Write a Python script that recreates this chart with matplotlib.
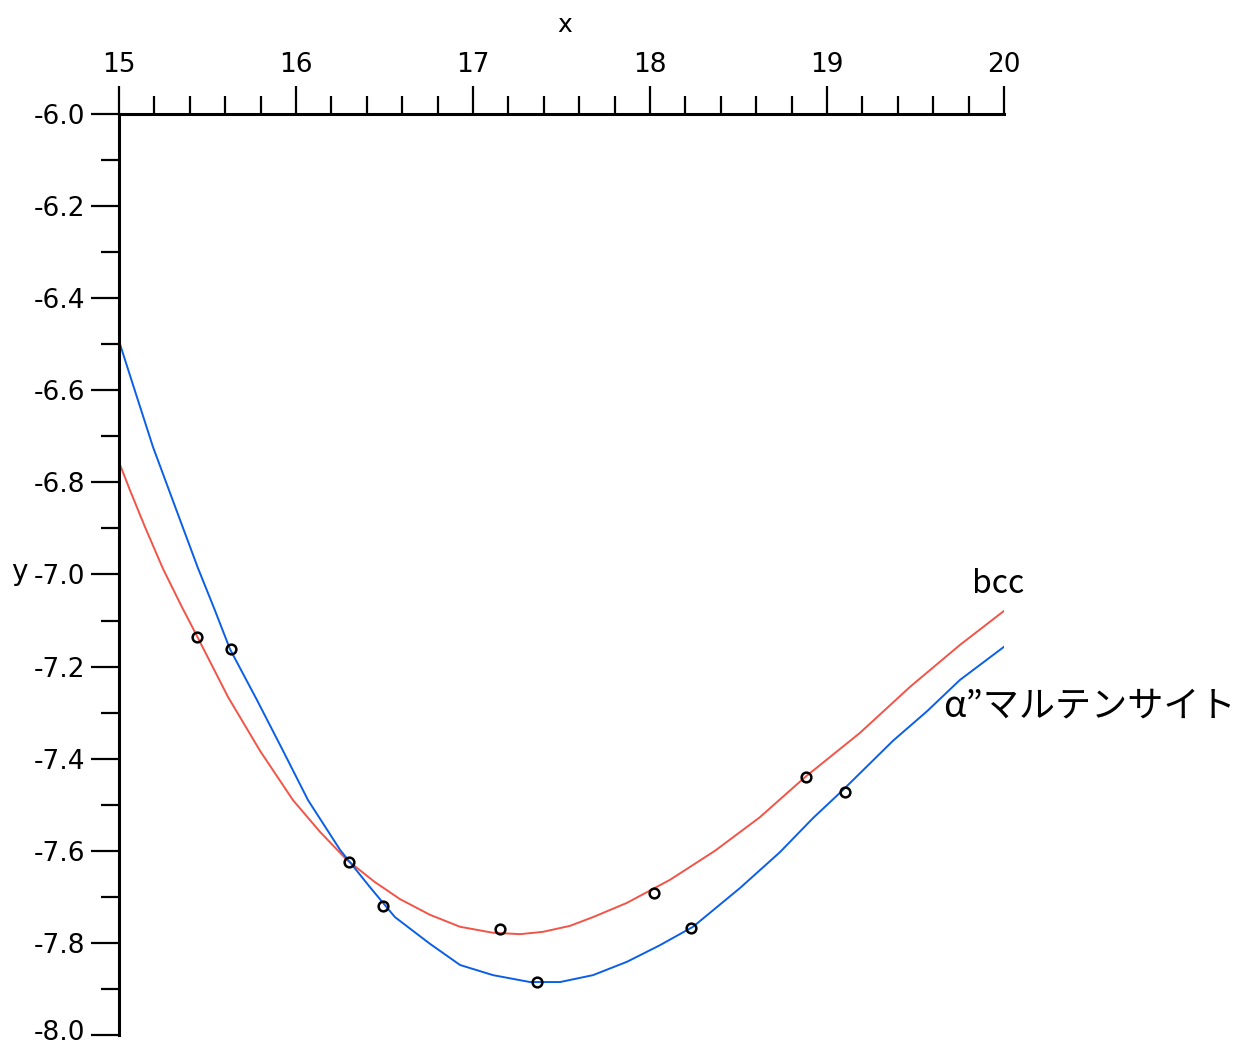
import numpy as np
import matplotlib
matplotlib.use("Agg")
import matplotlib.pyplot as plt
from matplotlib.ticker import MultipleLocator, FuncFormatter

plt.rcParams['axes.unicode_minus'] = False

# bcc curve (red)
bcc_x = [15.000, 15.062, 15.147, 15.249, 15.356, 15.441, 15.616, 15.797, 15.983, 16.136,
         16.288, 16.446, 16.588, 16.757, 16.927, 17.113, 17.266, 17.395, 17.548, 17.678,
         17.870, 18.113, 18.367, 18.621, 18.876, 19.186, 19.469, 19.751, 20.000]
bcc_y = [-6.756, -6.817, -6.897, -6.988, -7.071, -7.134, -7.266, -7.383, -7.490, -7.559,
         -7.620, -7.668, -7.705, -7.739, -7.765, -7.778, -7.781, -7.776, -7.763, -7.744,
         -7.713, -7.663, -7.600, -7.527, -7.440, -7.344, -7.244, -7.153, -7.079]

# alpha'' martensite curve (blue)
mart_x = [15.000, 15.079, 15.192, 15.328, 15.446, 15.537, 15.627, 15.780, 15.927, 16.068,
          16.249, 16.418, 16.559, 16.757, 16.927, 17.113, 17.322, 17.492, 17.678, 17.870,
          18.056, 18.243, 18.508, 18.734, 18.921, 19.090, 19.373, 19.565, 19.751, 20.000]
mart_y = [-6.493, -6.588, -6.723, -6.864, -6.986, -7.073, -7.162, -7.273, -7.383, -7.490,
          -7.598, -7.679, -7.744, -7.802, -7.848, -7.870, -7.885, -7.885, -7.870, -7.841,
          -7.805, -7.765, -7.681, -7.603, -7.529, -7.468, -7.361, -7.297, -7.229, -7.157]

# calculated points
bcc_px = [15.44, 16.30, 17.15, 18.02, 18.88]
bcc_py = [-7.136, -7.624, -7.770, -7.692, -7.440]
mart_px = [15.63, 16.49, 17.36, 18.23, 19.10]
mart_py = [-7.162, -7.720, -7.885, -7.768, -7.472]

y_bottom = -8.0

tick_font = ['DejaVu Sans']
jp_font = ['Noto Sans CJK JP', 'DejaVu Sans']

fig = plt.figure(figsize=(12.4, 10.48), dpi=100)
ax = fig.add_axes([119/1240, 1-1035/1048, 885/1240, 921/1048])

ax.plot(bcc_x, bcc_y, color='#F25448', lw=1.4)
ax.plot(mart_x, mart_y, color='#0A5FE6', lw=1.4)
ax.plot(bcc_px, bcc_py, 'o', ms=7, mfc='none', mec='black', mew=1.8)
ax.plot(mart_px, mart_py, 'o', ms=7, mfc='none', mec='black', mew=1.8)

ax.set_xlim(15, 20)
ax.set_ylim(y_bottom, -6.0)

for s in ['bottom', 'right']:
    ax.spines[s].set_visible(False)
for s in ['top', 'left']:
    ax.spines[s].set_linewidth(2.2)

ax.xaxis.tick_top()
ax.xaxis.set_major_locator(MultipleLocator(1))
ax.xaxis.set_minor_locator(MultipleLocator(0.2))
ax.yaxis.set_major_locator(MultipleLocator(0.2))
ax.yaxis.set_minor_locator(MultipleLocator(0.1))
# the bottom label is drawn separately, a little raised, so it stays on the page
ax.yaxis.set_major_formatter(FuncFormatter(
    lambda v, p: '' if abs(v - y_bottom) < 1e-6 else '%.1f' % v))

ax.tick_params(axis='x', which='major', direction='out', length=20, width=1.6, pad=6, labelsize=19)
ax.tick_params(axis='x', which='minor', direction='out', length=13, width=1.6)
ax.tick_params(axis='y', which='major', direction='out', length=20, width=1.6, pad=4, labelsize=19)
ax.tick_params(axis='y', which='minor', direction='out', length=13, width=1.6)
for lab in ax.get_xticklabels() + ax.get_yticklabels():
    lab.set_family(tick_font)

ax.annotate('%.1f' % y_bottom, xy=(0, y_bottom), xycoords=('axes fraction', 'data'),
            xytext=(-24, -8.2), textcoords='offset points', ha='right', va='bottom',
            fontsize=19, family=tick_font, annotation_clip=False)

fig.text(565/1240, 1-25/1048, 'x', ha='center', va='center', fontsize=18, family=tick_font)
fig.text(19/1240, 1-572/1048, 'y', ha='center', va='center', fontsize=20, family=tick_font)

ax.text(19.82, -7.040, 'bcc', ha='left', va='baseline', fontsize=23, family=jp_font)
ax.text(19.655, -7.309, 'α”マルテンサイト', ha='left', va='baseline', fontsize=26, family=jp_font)

fig.savefig('out.png', dpi=100)
